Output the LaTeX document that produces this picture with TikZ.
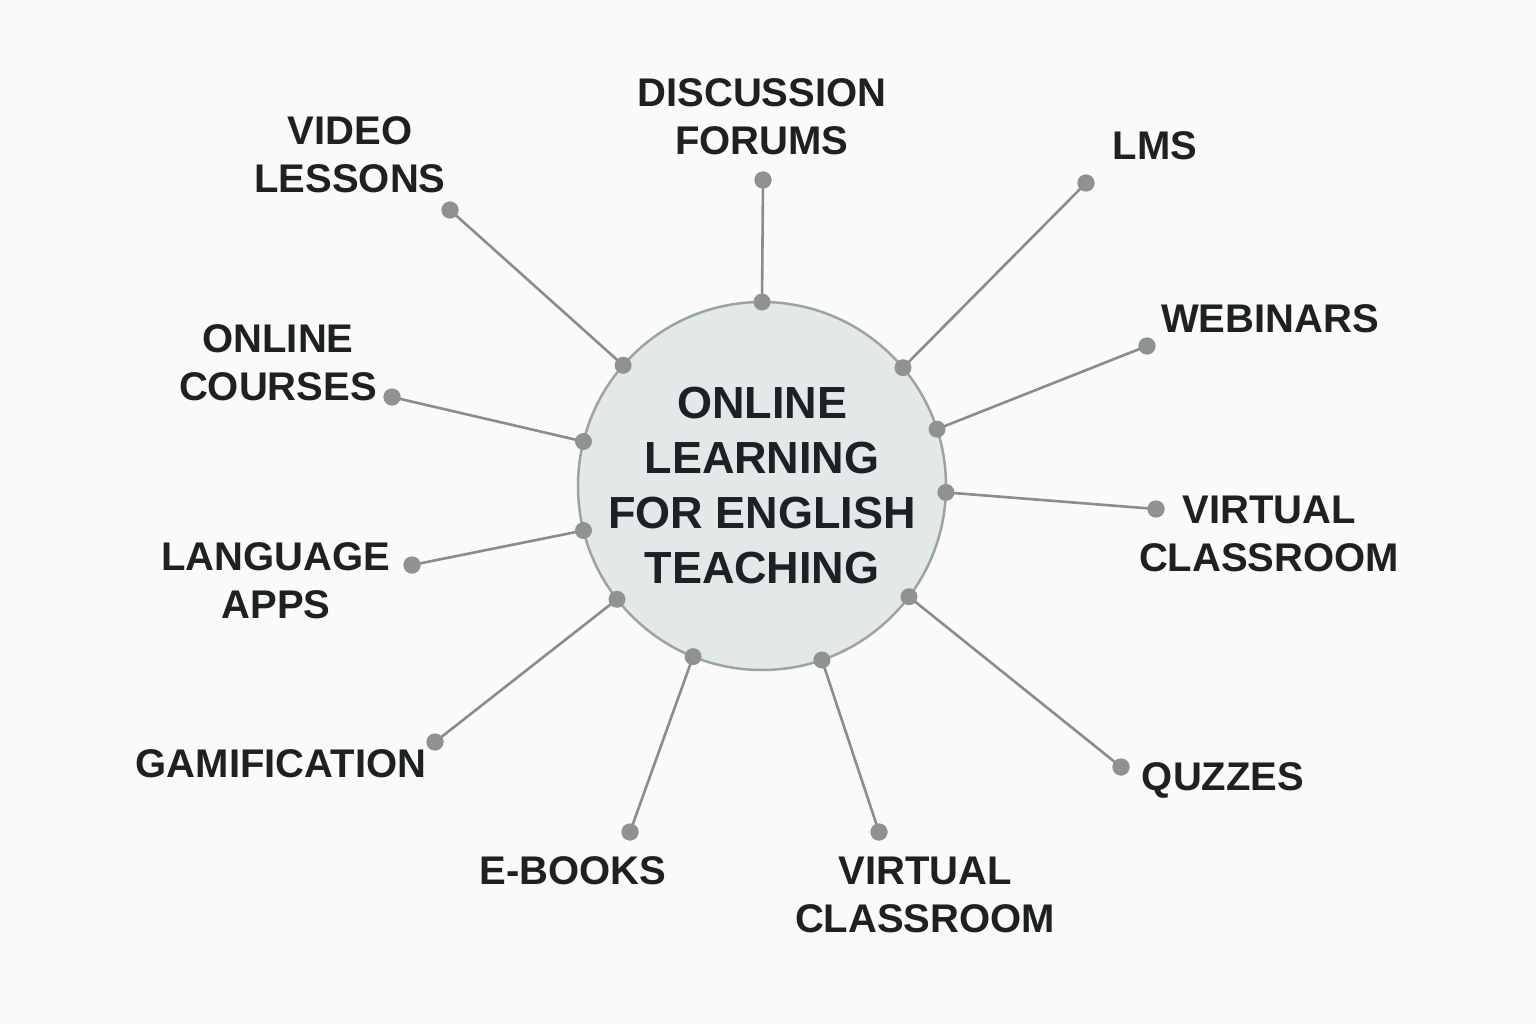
\documentclass[tikz,border=0pt]{standalone}
\usepackage{fontspec}
\setmainfont{Liberation Sans}
\definecolor{bg}{HTML}{FAFAF8}
\definecolor{hubfill}{HTML}{E3E9E9}
\definecolor{hubline}{HTML}{9CA3A3}
\definecolor{dotc}{HTML}{8F9292}
\definecolor{linec}{HTML}{8A8D8C}
\definecolor{txt}{HTML}{1D2124}
\begin{document}
\begin{tikzpicture}[x=1pt,y=-1pt,
  hub/.style={circle,draw=hubline,fill=hubfill,line width=2.5pt,minimum size=368pt,inner sep=0pt,outer sep=0pt,
    text=txt,font=\fontsize{45}{55}\selectfont\bfseries,align=center},
  dot/.style={circle,fill=dotc,minimum size=17pt,inner sep=0pt,outer sep=0pt},
  spoke/.style={draw=linec,line width=2.6pt},
  lbl/.style={text=txt,font=\fontsize{40}{48}\selectfont\bfseries,align=center,inner sep=0pt}]
\fill[bg] (0,0) rectangle (1536,1024);
\useasboundingbox (0,0) rectangle (1536,1024);

\node[hub] (c) at (762,486) {ONLINE\\LEARNING\\FOR ENGLISH\\TEACHING};

% inner dots
\foreach \a/\n in {90/1,40.8/2,18.3/3,-2.8/4,-37.1/5,-71/6,-112.3/7,-142.9/8,-166.3/9,166.3/10,139.4/11}
  \coordinate (i\n) at (c.\a);

% outer dots
\node[dot] (o1) at (763,180) {};
\node[dot] (o2) at (1086,183) {};
\node[dot] (o3) at (1147,346) {};
\node[dot] (o4) at (1156,509) {};
\node[dot] (o5) at (1121,767) {};
\node[dot] (o6) at (879,832) {};
\node[dot] (o7) at (630,832) {};
\node[dot] (o8) at (435,742) {};
\node[dot] (o9) at (412,565) {};
\node[dot] (o10) at (392,397) {};
\node[dot] (o11) at (450,210) {};

\foreach \n in {1,...,11} {
  \draw[spoke] (i\n) -- (o\n.center);
}
\foreach \n in {1,...,11} {
  \node[dot] at (i\n) {};
  \node[dot] at (o\n) {};
}

% labels
\node[lbl] (l1) at (762,117) {DISCUSSION\\FORUMS};
\node[lbl] (l2) at (1155,146) {LMS};
\node[lbl] (l3) at (1270,319) {WEBINARS};
\node[lbl] (l4) at (1269,534) {VIRTUAL\\CLASSROOM};
\node[lbl,anchor=base] (l5) at (1223,790) {QUZZES};
\node[lbl] (l6) at (925,895) {VIRTUAL\\CLASSROOM};
\node[lbl] (l7) at (573,871) {E-BOOKS};
\node[lbl] (l8) at (281,764) {GAMIFICATION};
\node[lbl] (l9) at (276,581) {LANGUAGE\\APPS};
\node[lbl] (l10) at (278,363) {ONLINE\\COURSES};
\node[lbl] (l11) at (350,155) {VIDEO\\LESSONS};
\end{tikzpicture}
\end{document}
